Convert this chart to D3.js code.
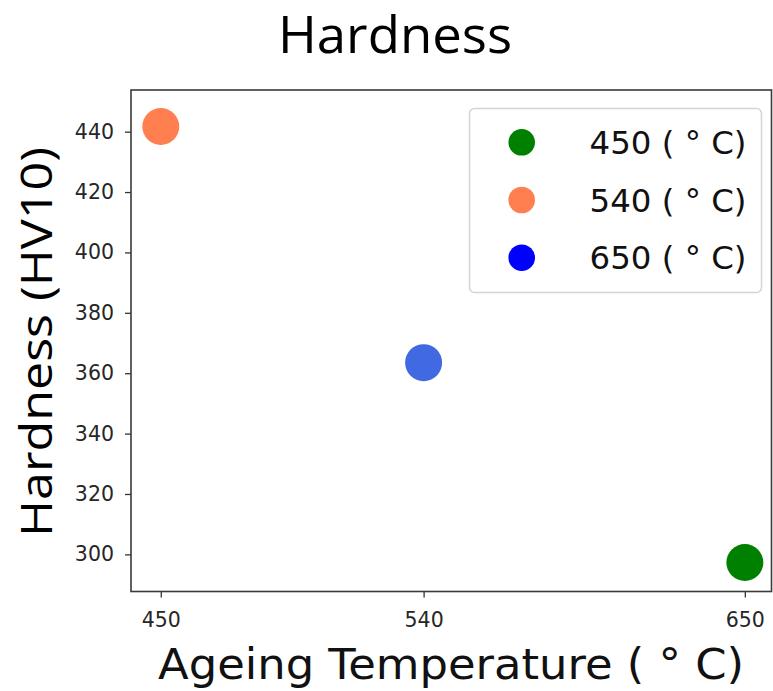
<!DOCTYPE html>
<html>
<head>
<meta charset="utf-8">
<script src="https://cdn.jsdelivr.net/npm/d3@7"></script>
<style>
  body { margin: 0; background: #fff; }
  svg { display: block; }
</style>
</head>
<body>
<svg id="chart" width="773" height="691"></svg>
<script>
// data
const temps = [450, 540, 650];
const hardness = [441.7, 363.5, 297.3];
const pointColors = ["#ff7f50", "#4169e1", "#008000"];

const legendLabels = ["450", "540", "650"];
const legendColors = ["#008000", "#ff7f50", "#0000ff"];

const xTicks = [450, 540, 650];
const yTicks = [300, 320, 340, 360, 380, 400, 420, 440];

// layout
const plot = {left: 131, right: 771.5, top: 90, bottom: 591.5};

const svg = d3.select("#chart");

const x = d3.scaleLinear()
  .domain([439.8, 659.3])
  .range([plot.left, 772]);

const y = d3.scaleLinear()
  .domain([287.7, 453.8])
  .range([plot.bottom, plot.top]);

// title
svg.append("text")
  .attr("x", 395)
  .attr("y", 53)
  .attr("text-anchor", "middle")
  .attr("font-family", "'Liberation Sans Narrow', 'Open Sans', sans-serif")
  .attr("font-size", 52)
  .attr("textLength", 234)
  .attr("lengthAdjust", "spacingAndGlyphs")
  .attr("fill", "#000")
  .text("Hardness");

// points
svg.append("g")
  .selectAll("circle")
  .data(temps)
  .enter().append("circle")
    .attr("cx", d => x(d))
    .attr("cy", (d, i) => y(hardness[i]))
    .attr("r", 18.5)
    .attr("fill", (d, i) => pointColors[i]);

// axes
const yAxis = svg.append("g")
  .attr("transform", `translate(${plot.left},0)`)
  .call(d3.axisLeft(y).tickValues(yTicks).tickSize(6).tickPadding(11).tickSizeOuter(0));

const xAxis = svg.append("g")
  .attr("transform", `translate(0,${plot.bottom})`)
  .call(d3.axisBottom(x).tickValues(xTicks).tickSize(6).tickPadding(15).tickSizeOuter(0));

[xAxis, yAxis].forEach(g => {
  g.select(".domain").remove();
  g.selectAll(".tick line").attr("stroke", "#333").attr("stroke-width", 1.3);
  g.selectAll(".tick text")
    .attr("font-family", "'DejaVu Sans', sans-serif")
    .attr("font-size", 20.5)
    .attr("fill", "#262626");
});

// frame
svg.append("rect")
  .attr("x", plot.left)
  .attr("y", plot.top)
  .attr("width", plot.right - plot.left)
  .attr("height", plot.bottom - plot.top)
  .attr("fill", "none")
  .attr("stroke", "#3a3a3a")
  .attr("stroke-width", 1.6);

// axis labels
svg.append("text")
  .attr("x", 451)
  .attr("y", 679)
  .attr("text-anchor", "middle")
  .attr("font-family", "'DejaVu Sans', sans-serif")
  .attr("font-size", 42)
  .attr("textLength", 586)
  .attr("lengthAdjust", "spacingAndGlyphs")
  .attr("fill", "#111")
  .text("Ageing Temperature ( \u00B0 C)");

svg.append("text")
  .attr("transform", "translate(52,342) rotate(-90)")
  .attr("text-anchor", "middle")
  .attr("font-family", "'Liberation Sans Narrow', 'Open Sans', sans-serif")
  .attr("font-size", 44)
  .attr("textLength", 390)
  .attr("lengthAdjust", "spacingAndGlyphs")
  .attr("fill", "#000")
  .text("Hardness (HV10)");

// legend
const leg = svg.append("g");
leg.append("rect")
  .attr("x", 469.5)
  .attr("y", 108.5)
  .attr("width", 292)
  .attr("height", 184)
  .attr("rx", 5)
  .attr("fill", "#fff")
  .attr("fill-opacity", 0.8)
  .attr("stroke", "#d4d4d4")
  .attr("stroke-width", 1.5);

const rowY = d3.scalePoint()
  .domain(legendLabels)
  .range([142.3, 257.7]);

leg.selectAll("circle")
  .data(legendLabels)
  .enter().append("circle")
    .attr("cx", 521.7)
    .attr("cy", d => rowY(d))
    .attr("r", 13.3)
    .attr("fill", (d, i) => legendColors[i]);

leg.selectAll("text")
  .data(legendLabels)
  .enter().append("text")
    .attr("x", 589.5)
    .attr("y", d => rowY(d) + 11.5)
    .attr("font-family", "'DejaVu Sans', sans-serif")
    .attr("font-size", 31.5)
    .attr("textLength", 157)
    .attr("lengthAdjust", "spacingAndGlyphs")
    .attr("fill", "#111")
    .text(d => d + " ( \u00B0 C)");
</script>
</body>
</html>
